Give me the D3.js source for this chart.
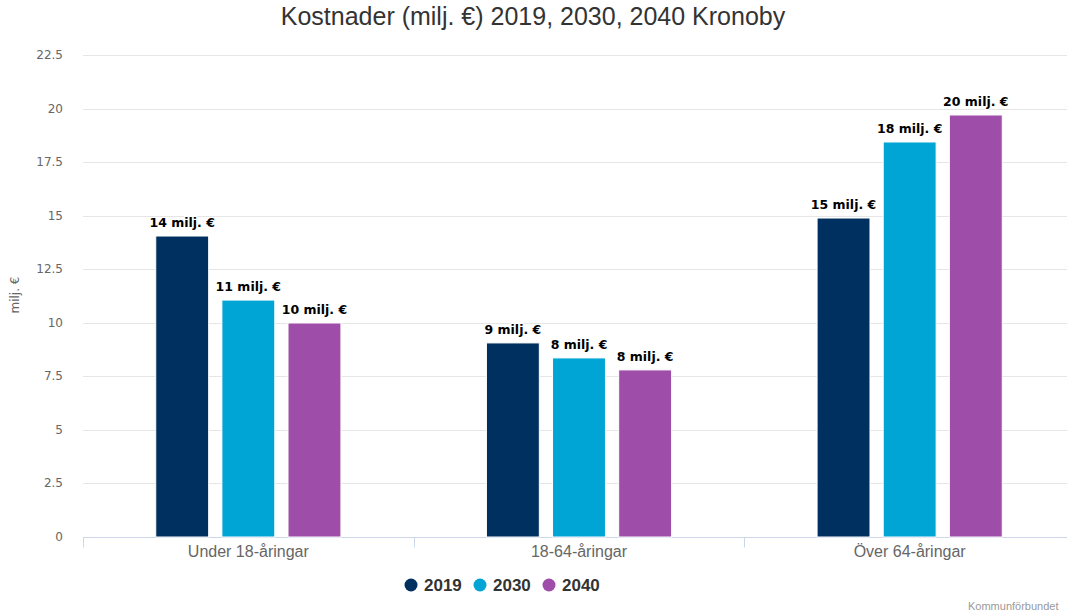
<!DOCTYPE html>
<html>
<head>
<meta charset="utf-8">
<script src="https://cdn.jsdelivr.net/npm/d3@7"></script>
<style>
  body { margin: 0; background: #fff; }
  svg { display: block; }
</style>
</head>
<body>
<svg width="1067" height="615"></svg>
<script>
var categories = ["Under 18-åringar", "18-64-åringar", "Över 64-åringar"];
var years = ["2019", "2030", "2040"];
var values2019 = [14.05, 9.06, 14.89];
var values2030 = [11.06, 8.36, 18.44];
var values2040 = [9.99, 7.80, 19.70];
var yTicks = [0, 2.5, 5, 7.5, 10, 12.5, 15, 17.5, 20, 22.5];

var series = [
  { name: "2019", values: values2019, color: "#00305f" },
  { name: "2030", values: values2030, color: "#00a5d5" },
  { name: "2040", values: values2040, color: "#9e4da8" }
];

var svg = d3.select("svg");
var width = 1067, height = 615;
var plotLeft = 83, plotRight = 1075, plotTop = 55, plotBottom = 537;

var x = d3.scaleBand().domain(categories).range([plotLeft, plotRight]);
var pad = x.bandwidth() * 0.22;
var xs = d3.scaleBand().domain(years).range([pad, x.bandwidth() - pad]).paddingInner(0.2);
var y = d3.scaleLinear().domain([0, 22.5]).range([plotBottom, plotTop]);

// title
svg.append("text")
  .attr("x", 533).attr("y", 25)
  .attr("text-anchor", "middle")
  .style("font-family", "Liberation Sans, sans-serif")
  .style("font-size", "25px")
  .style("fill", "#333")
  .text("Kostnader (milj. €) 2019, 2030, 2040 Kronoby");

// grid
svg.append("g")
  .selectAll("line")
  .data(yTicks.filter(function(d) { return d > 0; }))
  .enter().append("line")
    .attr("x1", plotLeft).attr("x2", width)
    .attr("y1", function(d) { return Math.round(y(d)) + 0.5; })
    .attr("y2", function(d) { return Math.round(y(d)) + 0.5; })
    .attr("stroke", "#e6e6e6");

// y axis labels
svg.append("g")
  .selectAll("text")
  .data(yTicks)
  .enter().append("text")
    .attr("x", 63)
    .attr("y", function(d) { return y(d) + 4; })
    .attr("text-anchor", "end")
    .style("font-family", "DejaVu Sans, sans-serif")
    .style("font-size", "12px")
    .style("fill", "#666")
    .text(function(d) { return d; });

svg.append("text")
  .attr("transform", "translate(19,295) rotate(-90)")
  .attr("text-anchor", "middle")
  .style("font-family", "DejaVu Sans, sans-serif")
  .style("font-size", "12px")
  .style("fill", "#666")
  .text("milj. €");

// x axis
var xAxis = svg.append("g").attr("transform", "translate(0," + (plotBottom + 0.5) + ")");
xAxis.append("line")
  .attr("x1", plotLeft).attr("x2", plotRight)
  .attr("stroke", "#ccd6eb");
xAxis.selectAll(".tk")
  .data(categories)
  .enter().append("line")
    .attr("class", "tk")
    .attr("x1", function(d) { return Math.round(x(d)) + 0.5; })
    .attr("x2", function(d) { return Math.round(x(d)) + 0.5; })
    .attr("y1", 0).attr("y2", 10)
    .attr("stroke", "#ccd6eb");
xAxis.selectAll("text")
  .data(categories)
  .enter().append("text")
    .attr("x", function(d) { return x(d) + x.bandwidth() / 2; })
    .attr("y", 19)
    .attr("text-anchor", "middle")
    .style("font-family", "Liberation Sans, sans-serif")
    .style("font-size", "16px")
    .style("fill", "#666")
    .text(function(d) { return d; });

// bars
var groups = svg.append("g")
  .selectAll("g")
  .data(series)
  .enter().append("g")
    .attr("fill", function(d) { return d.color; });

groups.selectAll("rect")
  .data(function(s) {
    return s.values.map(function(v, i) { return { cat: categories[i], year: s.name, value: v }; });
  })
  .enter().append("rect")
    .attr("x", function(d) { return x(d.cat) + xs(d.year); })
    .attr("y", function(d) { return y(d.value); })
    .attr("width", xs.bandwidth())
    .attr("height", function(d) { return plotBottom - y(d.value); })
    .attr("stroke", "#fff")
    .attr("stroke-width", 1);

groups.selectAll("text")
  .data(function(s) {
    return s.values.map(function(v, i) { return { cat: categories[i], year: s.name, value: v }; });
  })
  .enter().append("text")
    .attr("x", function(d) { return x(d.cat) + xs(d.year) + xs.bandwidth() / 2; })
    .attr("y", function(d) { return y(d.value) - 9; })
    .attr("text-anchor", "middle")
    .style("font-family", "DejaVu Sans, sans-serif")
    .style("font-size", "12.5px")
    .style("font-weight", "bold")
    .style("fill", "#000")
    .style("paint-order", "stroke")
    .style("stroke", "#fff")
    .style("stroke-width", "2px")
    .text(function(d) { return Math.round(d.value) + " milj. €"; });

// legend
var legendX = [411, 480, 549];
var legend = svg.append("g")
  .selectAll("g")
  .data(series)
  .enter().append("g")
    .attr("transform", function(d, i) { return "translate(" + legendX[i] + ",585)"; });
legend.append("circle")
  .attr("r", 6.5)
  .attr("fill", function(d) { return d.color; });
legend.append("text")
  .attr("x", 13).attr("y", 6)
  .style("font-family", "Liberation Sans, sans-serif")
  .style("font-size", "17px")
  .style("font-weight", "bold")
  .style("fill", "#333")
  .text(function(d) { return d.name; });

// credit
svg.append("text")
  .attr("x", 968).attr("y", 610)
  .style("font-family", "Liberation Sans, sans-serif")
  .style("font-size", "11px")
  .style("fill", "#999")
  .text("Kommunförbundet");
</script>
</body>
</html>
